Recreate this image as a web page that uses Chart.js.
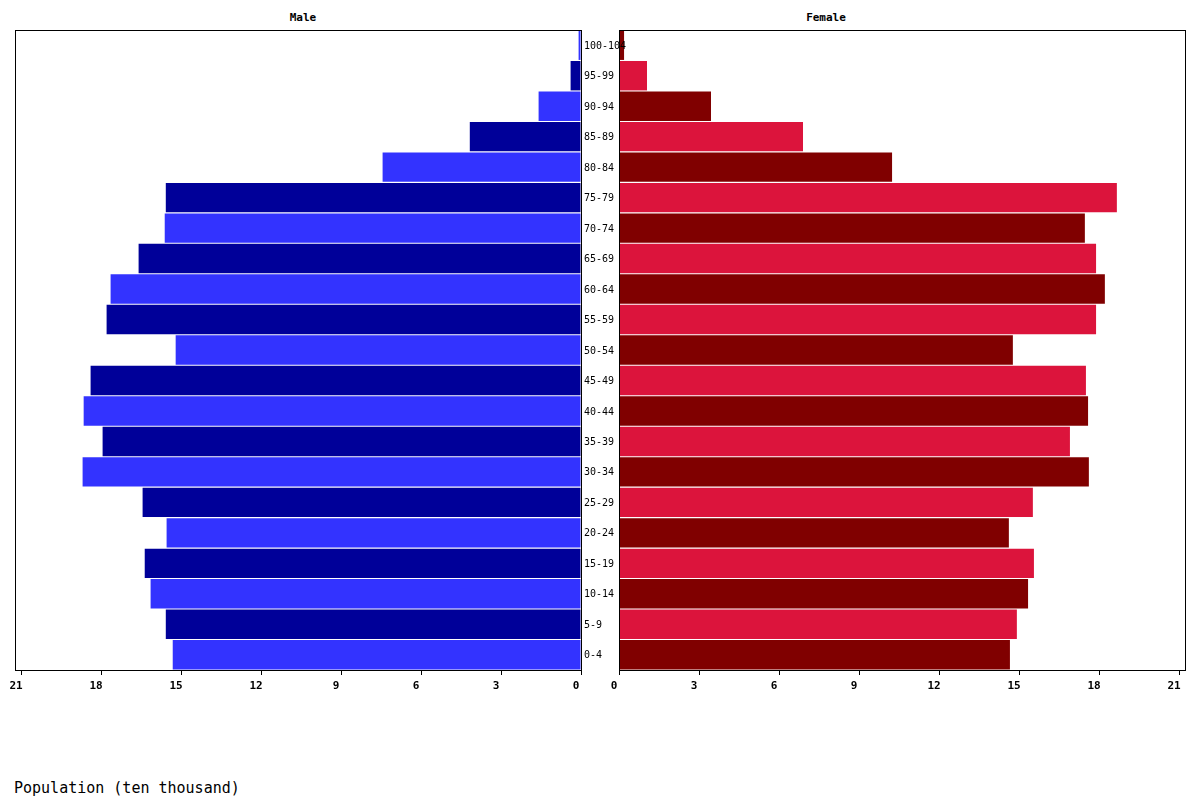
<!DOCTYPE html>
<html>
<head>
<meta charset="utf-8">
<script src="https://cdn.jsdelivr.net/npm/chart.js@4"></script>
<style>
  html, body { margin: 0; padding: 0; background: #fff; }
  #wrap { position: relative; width: 1200px; height: 800px; overflow: hidden; }
  canvas { position: absolute; left: 0; top: 0; }
  .txt { position: absolute; color: #000; white-space: nowrap; }
  #tMale { left: 303px; top: 17px; transform: translate(-50%, -50%); font: bold 11px "DejaVu Sans Mono", monospace; }
  #tFemale { left: 826px; top: 17px; transform: translate(-50%, -50%); font: bold 11px "DejaVu Sans Mono", monospace; }
  #tAxis { left: 14px; top: 788px; transform: translate(0, -50%); font: 15px "DejaVu Sans Mono", monospace; }
</style>
</head>
<body>
<div id="wrap">
  <canvas id="female" width="1200" height="800" style="z-index:1"></canvas>
  <canvas id="male" width="1200" height="800" style="z-index:2"></canvas>
  <div class="txt" id="tMale">Male</div>
  <div class="txt" id="tFemale">Female</div>
  <div class="txt" id="tAxis">Population (ten thousand)</div>
</div>
<script>
const ageGroups = ["0-4","5-9","10-14","15-19","20-24","25-29","30-34","35-39","40-44","45-49","50-54","55-59","60-64","65-69","70-74","75-79","80-84","85-89","90-94","95-99","100-104"];
const maleValues = [15.31,15.57,16.14,16.36,15.54,16.44,18.69,17.94,18.65,18.39,15.20,17.79,17.64,16.59,15.61,15.57,7.44,4.17,1.59,0.39,0.09];
const femaleValues = [14.66,14.92,15.34,15.56,14.62,15.52,17.62,16.91,17.59,17.51,14.77,17.89,18.22,17.89,17.47,18.67,10.24,6.90,3.45,1.05,0.19];
const axisMin = 0;
const axisMax = 21.225;
const tickStep = 3;

Chart.defaults.color = '#000';
Chart.defaults.animation = false;

const maleColors = ageGroups.map((_, i) => i % 2 === 0 ? '#3333FF' : '#000099');
const femaleColors = ageGroups.map((_, i) => i % 2 === 0 ? '#800000' : '#DC143C');

const framePlugin = {
  id: 'frame',
  afterDatasetsDraw(chart) {
    const a = chart.chartArea, ctx = chart.ctx;
    ctx.save();
    ctx.strokeStyle = '#000';
    ctx.lineWidth = 1;
    ctx.strokeRect(Math.round(a.left) + 0.5, Math.round(a.top) + 0.5, Math.round(a.right - a.left), Math.round(a.bottom - a.top));
    ctx.restore();
  }
};

// Age-group labels drawn between the two plots, positioned by the category scale
const ageLabelPlugin = {
  id: 'ageLabels',
  afterDraw(chart) {
    const ys = chart.scales.y, ctx = chart.ctx;
    const x0 = chart.chartArea.right + 3;
    ctx.save();
    ctx.fillStyle = '#000';
    ctx.font = '10px "DejaVu Sans Mono", monospace';
    ctx.textAlign = 'left';
    ctx.textBaseline = 'middle';
    chart.data.labels.forEach((lab, i) => {
      ctx.fillText(lab, x0, ys.getPixelForValue(i) + 1);
    });
    ctx.restore();
  }
};

function xScale(reverse) {
  return {
    type: 'linear',
    min: axisMin,
    max: axisMax,
    reverse: reverse,
    afterFit(s) { s.height = 30; },
    border: { display: false },
    grid: { drawOnChartArea: false, drawTicks: true, tickLength: 5, tickColor: '#000', lineWidth: 1 },
    ticks: {
      stepSize: tickStep,
      includeBounds: false,
      maxRotation: 0,
      labelOffset: -5,
      padding: 5,
      color: '#000',
      font: { family: '"DejaVu Sans Mono", monospace', size: 11, weight: 'bold' }
    }
  };
}

const barCommon = { barPercentage: 0.965, categoryPercentage: 1.0, borderWidth: 0 };

new Chart(document.getElementById('male'), {
  type: 'bar',
  data: { labels: ageGroups, datasets: [Object.assign({ data: maleValues, backgroundColor: maleColors }, barCommon)] },
  options: {
    responsive: false,
    indexAxis: 'y',
    layout: { padding: { left: 15, top: 30, right: 619, bottom: 100 } },
    plugins: { legend: { display: false }, tooltip: { enabled: false } },
    scales: {
      x: xScale(true),
      y: { type: 'category', reverse: true, display: false }
    }
  },
  plugins: [framePlugin, ageLabelPlugin]
});

new Chart(document.getElementById('female'), {
  type: 'bar',
  data: { labels: ageGroups, datasets: [Object.assign({ data: femaleValues, backgroundColor: femaleColors }, barCommon)] },
  options: {
    responsive: false,
    indexAxis: 'y',
    layout: { padding: { left: 619, top: 30, right: 15, bottom: 100 } },
    plugins: { legend: { display: false }, tooltip: { enabled: false } },
    scales: {
      x: xScale(false),
      y: { type: 'category', reverse: true, display: false }
    }
  },
  plugins: [framePlugin]
});
</script>
</body>
</html>
